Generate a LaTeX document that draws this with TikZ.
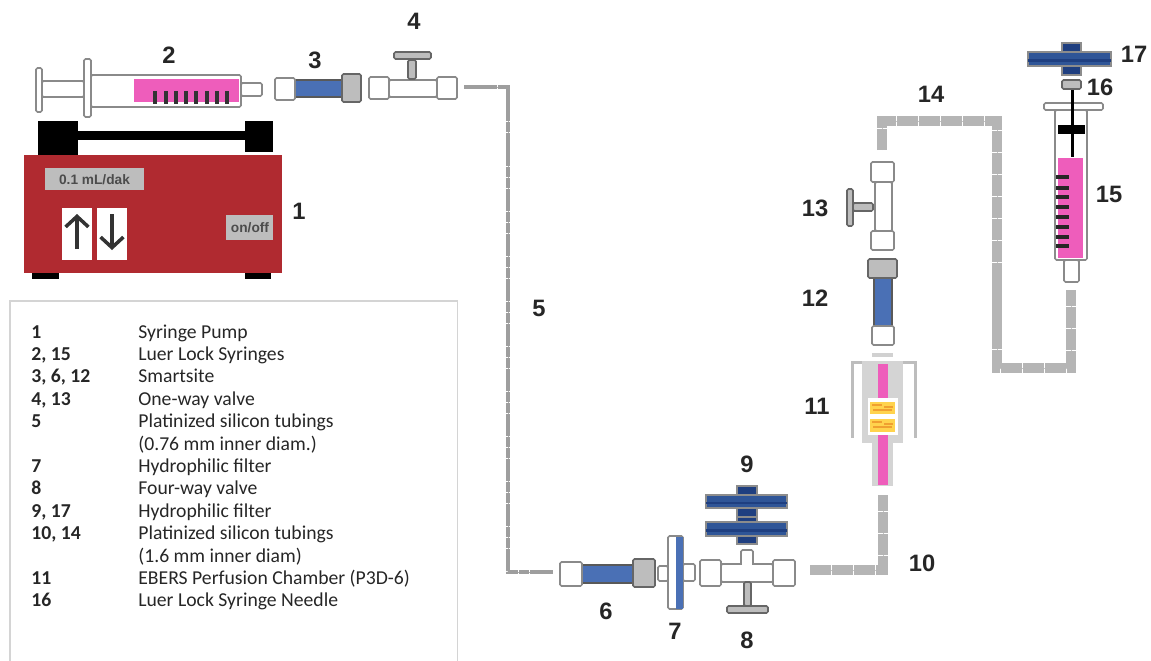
\documentclass[tikz,border=0pt]{standalone}
\usepackage{fontspec}
\usetikzlibrary{arrows.meta}
\setmainfont{Liberation Sans}
\newfontfamily\legendfont{Carlito}
\definecolor{pumpred}{HTML}{B02A30}
\definecolor{partline}{HTML}{8A8A8A}
\definecolor{partgray}{HTML}{BDBDBD}
\definecolor{syrpink}{HTML}{EE5DBB}
\definecolor{siteblue}{HTML}{4A70B5}
\definecolor{filterblue}{HTML}{2F5597}
\definecolor{hubblue}{HTML}{1F3F80}
\definecolor{cellyellow}{HTML}{FFD34D}
\definecolor{cellorange}{HTML}{F0A030}
\begin{document}
\begin{tikzpicture}[x=0.02cm,y=-0.02cm,
    part/.style={draw=partline,line width=0.9pt,fill=white,rounded corners=0.8pt},
    grayPart/.style={part,fill=partgray,draw=black!60},
    bluePart/.style={draw=black!65,line width=0.6pt,fill=siteblue},
    filterDisk/.style={draw=black!45,line width=0.6pt,fill=filterblue},
    filterHub/.style={draw=black!45,line width=0.6pt,fill=hubblue},
    tube/.style={line width=5.2pt,black!29,dash pattern=on 12pt off 0.5pt,preaction={draw=black!23,solid}},
    thinTube/.style={tube,line width=2.8pt,black!38,dash pattern=on 6pt off 0.4pt,preaction={draw=black!32,solid}},
    pumpArrow/.style={line width=2pt,black!80,-{Straight Barb[length=6pt,width=13pt,line width=2pt]}},
    num/.style={font=\fontsize{13.5}{15}\selectfont\bfseries,text=black!85,inner sep=0pt},
    legendNum/.style={font=\legendfont\fontsize{11.2}{12}\selectfont\bfseries,anchor=base west,inner sep=0pt,text=black!85},
    legendText/.style={font=\legendfont\fontsize{11.2}{12}\selectfont,anchor=base west,inner sep=0pt,text=black!85},
    panelText/.style={font=\fontsize{7.8}{9}\selectfont\bfseries,text=black!70,inner sep=0pt}]
\useasboundingbox (0,0) rectangle (1151,660);

% Draw pump
\fill[pumpred] (24,155) rectangle (282,273);
\foreach \xa/\xb in {32/59,245/271} {
    \fill[black] (\xa,273) rectangle (\xb,279);
}
\fill[black] (38,121) rectangle (78,155);
\fill[black] (245,121) rectangle (273,152);
\fill[black] (78,131) rectangle (245,140);
\fill[partgray] (45,168) rectangle (144,190);
\node[panelText] (rate) at (94.5,180) {0.1 mL/dak};
\fill[partgray] (226,215) rectangle (273,240);
\node[panelText] (onoff) at (250,228) {on/off};
\fill[white] (62,208) rectangle (92,260);
\fill[white] (97,208) rectangle (127,260);
\draw[pumpArrow] (77,249) -- (77,214);
\draw[pumpArrow] (112,214) -- (112,250);

% Draw syringe 2
\draw[part] (42,81) rectangle (84,97);
\draw[part] (36,68) rectangle (42,112);
\draw[part] (91,75) rectangle (241,107);
\fill[syrpink] (134,79) rectangle (239,102);
\draw[part] (84,59) rectangle (91,117);
\draw[part] (241,83) rectangle (262,96);
\foreach \x in {155,166,176,186,196,207,217,227} {
    \draw[line width=1.9pt,black!80] (\x,91) -- (\x,104);
}

% Draw smartsite 3
\draw[bluePart] (295,80) rectangle (342,97);
\draw[part] (275,78) rectangle (295,100);
\draw[grayPart] (342,74) rectangle (361,102);

% Draw valve 4
\draw[part] (389,80) rectangle (437,97);
\draw[part] (369,77) rectangle (389,99);
\draw[part] (437,77) rectangle (457,99);
\draw[grayPart] (408,60) rectangle (416,79);
\draw[grayPart] (394,52) rectangle (431,59);

% Draw smartsite 6 and filter 7
\draw[bluePart] (582,565) rectangle (633,583);
\draw[part] (560,562) rectangle (582,586);
\draw[grayPart] (633,559) rectangle (655,587);
\draw[part] (658,566) rectangle (668,581);
\draw[part] (683,564) rectangle (695,581);
\draw[part] (668,536) rectangle (683,609);
\fill[siteblue] (676,536.5) rectangle (682.5,608.5);

% Draw valve 8
\draw[part] (741,550) rectangle (753,566);
\draw[part] (721,564) rectangle (773,582);
\fill[white] (742,563) rectangle (752,566);
\draw[part] (700,560) rectangle (721,586);
\draw[part] (773,560) rectangle (795,586);
\draw[grayPart] (744,582) rectangle (751,606);
\draw[grayPart] (727,606) rectangle (768,613);

% Draw filters 9 and 17
\foreach \xa/\xb/\ha/\hb/\ya/\yb/\ua/\ub in {706/787/737/757/495/508/486/517,706/787/737/757/522/536/517/544,1028/1111/1062/1081/52/66/43/75} {
    \draw[filterHub] (\ha,\ua) rectangle (\hb,\ub);
    \draw[filterDisk] (\xa,\ya) rectangle (\xb,\yb);
    \fill[hubblue] (\xa,{(\ya+\yb)/2}) rectangle (\xb,{(\ya+\yb)/2+2.5});
}

% Draw chamber 11
\fill[partgray!70] (872,353) rectangle (893,357);
\draw[partgray,line width=1.8pt] (862,362.5) -- (852.5,362.5) -- (852.5,438);
\draw[partgray,line width=1.8pt] (903,362.5) -- (915.5,362.5) -- (915.5,438);
\fill[black!17] (862,361) rectangle (903,443);
\fill[black!17] (872,443) rectangle (893,486);
\fill[syrpink] (878,364) rectangle (888,398);
\fill[syrpink] (878,435) rectangle (888,485);
\fill[white] (868,398) rectangle (898,435);
\foreach \ya/\yb in {402/414,419/432} {
    \fill[cellyellow] (870,\ya) rectangle (895,\yb);
    \draw[cellorange,line width=0.7pt] (872,{\ya+3}) -- (882,{\ya+3}) (884,{\ya+5}) -- (893,{\ya+5}) (873,{\ya+8}) -- (892,{\ya+8});
}

% Draw smartsite 12 and valve 13
\draw[bluePart] (874,278) rectangle (892,326);
\draw[grayPart] (868,259) rectangle (897,278);
\draw[part] (872,326) rectangle (894,345);
\draw[part] (875,182) rectangle (892,231);
\draw[part] (871,162) rectangle (894,182);
\draw[part] (871,231) rectangle (894,250);
\draw[grayPart] (853,203) rectangle (873,211);
\draw[grayPart] (847,189) rectangle (853,226);

% Draw syringe 15 and needle 16
\draw[part] (1064,260) rectangle (1079,282);
\draw[part] (1055,110) rectangle (1087,260);
\fill[syrpink] (1058,158) rectangle (1083,258);
\draw[part] (1044,103) rectangle (1103,110);
\fill[black] (1058,125) rectangle (1085,134);
\draw[black,line width=1.7pt] (1072,89) -- (1072,157);
\draw[grayPart] (1062,80) rectangle (1081,89);
\foreach \y in {177,188,197,207,217,227,237,246} {
    \draw[line width=1.9pt,black!85] (1056,\y) -- (1069,\y);
}

% Draw tubings
\coordinate (tubeFiveA) at (464,87);
\coordinate (tubeFiveB) at (553,572);
\coordinate (tubeFiveC) at (508,330);
\coordinate (tubeTenA) at (810,570);
\coordinate (tubeTenB) at (883,495);
\coordinate (tubeLongA) at (882,150);
\coordinate (tubeLongB) at (997,121);
\coordinate (tubeLongC) at (1071,290);
\coordinate (tubeLongD) at (1033,368);
\draw[thinTube] (tubeFiveA) -| (tubeFiveC) |- (tubeFiveB);
\draw[tube] (tubeTenA) -| (tubeTenB);
\draw[tube] (tubeLongA) |- (tubeLongB) |- (tubeLongD) -| (tubeLongC);

% Draw numbers
\foreach \name/\x/\y/\val in {nOne/299/211/1,nTwo/169/55/2,nThree/315/60/3,nFour/414/21/4,nFive/539/308/5,nSix/606/611/6,nSeven/675/631/7,nEight/747/640/8,nNine/747/464/9,nTen/922/563/10,nEleven/817/406/11,nTwelve/815/298/12,nThirteen/815/208/13,nFourteen/931/94/14,nFifteen/1109/194/15,nSixteen/1100/87/16,nSeventeen/1134/54/17} {
    \node[num] (\name) at (\x,\y) {\val};
}

% Draw legend
\draw[black!17,line width=0.8pt] (10,662) -- (10,301) -- (457.5,301) -- (457.5,662);
\foreach \i/\y/\key/\txt in {a/338/1/Syringe Pump,b/360.4/{2, 15}/Luer Lock Syringes,c/382.8/{3, 6, 12}/Smartsite,d/405.2/{4, 13}/One-way valve,e/427.6/5/Platinized silicon tubings,g/472.4/7/Hydrophilic filter,h/494.8/8/Four-way valve,i/517.2/{9, 17}/Hydrophilic filter,j/539.6/{10, 14}/Platinized silicon tubings,m/584.4/11/EBERS Perfusion Chamber (P3D-6),n/606.8/16/Luer Lock Syringe Needle} {
    \node[legendNum] (key\i) at (31,\y) {\key};
    \node[legendText] (txt\i) at (138,\y) {\txt};
}
\node[legendText] (txtf) at (138,450) {(0.76 mm inner diam.)};
\node[legendText] (txtk) at (138,562) {(1.6 mm inner diam)};
\end{tikzpicture}
\end{document}
